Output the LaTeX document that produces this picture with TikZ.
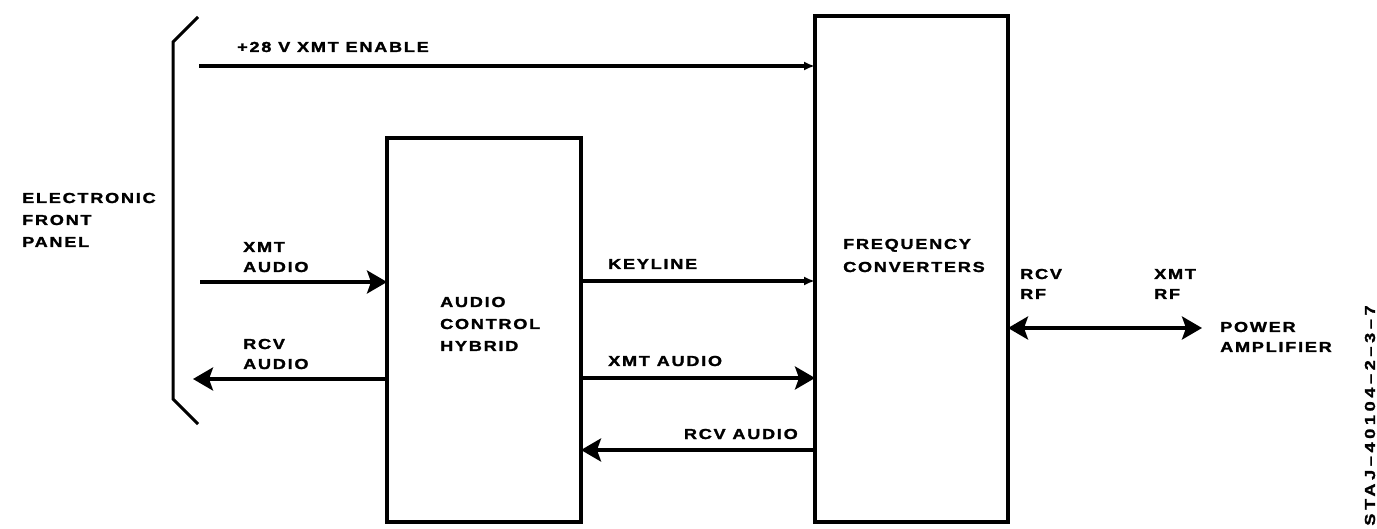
\documentclass[tikz,border=0pt]{standalone}
\usepackage{fontspec}
\setmainfont{Liberation Sans}[FakeStretch=1.25, LetterSpace=12, BoldFeatures={FakeBold=1.6}]
\newfontfamily\stajfont{Liberation Sans}[FakeStretch=1.25, LetterSpace=25, BoldFeatures={FakeBold=1.6}]
\usetikzlibrary{arrows.meta}
\begin{document}
\begin{tikzpicture}[x=1pt,y=-1pt,
  lbl/.style={font=\bfseries\fontsize{14.5}{20}\selectfont, inner sep=0pt, anchor=base west},
  lble/.style={lbl, anchor=base east},
  blk/.style={draw, line width=3.5pt, inner sep=0pt, outer sep=0pt},
  bus/.style={line width=3.5pt},
  bigarrow/.style={bus, -{Stealth[length=20pt,width=23pt,inset=4pt]}},
  dblarrow/.style={bus, {Stealth[length=20pt,width=23pt,inset=4pt]}-{Stealth[length=20pt,width=23pt,inset=4pt]}},
  smallarrow/.style={bus, -{Latex[length=11pt,width=9pt]}},
  panel/.style={line width=3pt}
]
\useasboundingbox (0,0) rectangle (1377,529);

% blocks
\node[blk, minimum width=194pt, minimum height=384pt] (ach) at (484,330) {};
\node[blk, minimum width=193pt, minimum height=506pt] (fc) at (911.5,269) {};

% front panel bracket
\coordinate (p1) at (198,17);
\coordinate (p2) at (173,42);
\coordinate (p3) at (173,399);
\coordinate (p4) at (198,424);
\draw[panel] (p1) -- (p2) -- (p3) -- (p4);

% free ends
\coordinate (e28) at (199,66);
\coordinate (exa) at (200,282);
\coordinate (era) at (193,379);
\coordinate (erf) at (1202,328);

% connectors
\draw[smallarrow] (e28) -- (e28 -| fc.west);
\draw[bigarrow] (exa) -- (exa -| ach.west);
\draw[bigarrow] (era -| ach.west) -- (era);
\draw[smallarrow] (ach.east |- 0,281) -- (fc.west |- 0,281);
\draw[bigarrow] (ach.east |- 0,378) -- (fc.west |- 0,378);
\draw[bigarrow] (fc.west |- 0,450) -- (ach.east |- 0,450);
\draw[dblarrow] (fc.east |- erf) -- (erf);

% labels
\node[lbl] (t1) at (22,203) {ELECTRONIC};
\node[lbl] (t2) at (22,225) {FRONT};
\node[lbl] (t3) at (22,247) {PANEL};
\node[lbl] (t4) at (237,52) {+28 V XMT ENABLE};
\node[lbl] (t5) at (243,252) {XMT};
\node[lbl] (t6) at (243,272) {AUDIO};
\node[lbl] (t7) at (243,349) {RCV};
\node[lbl] (t8) at (243,369) {AUDIO};
\node[lbl] (t9) at (440,307) {AUDIO};
\node[lbl] (t10) at (440,329) {CONTROL};
\node[lbl] (t11) at (440,351) {HYBRID};
\node[lbl] (t12) at (608,269) {KEYLINE};
\node[lbl] (t13) at (608,366) {XMT AUDIO};
\node[lble] (t14) at (798,439) {RCV AUDIO};
\node[lbl] (t15) at (843,249) {FREQUENCY};
\node[lbl] (t16) at (843,272) {CONVERTERS};
\node[lbl] (t17) at (1020,279) {RCV};
\node[lbl] (t18) at (1020,299) {RF};
\node[lbl] (t19) at (1154,279) {XMT};
\node[lbl] (t20) at (1154,299) {RF};
\node[lbl] (t21) at (1220,332) {POWER};
\node[lbl] (t22) at (1220,352) {AMPLIFIER};
\node[font=\stajfont\bfseries\fontsize{14.5}{20}\selectfont, inner sep=0pt, rotate=90] (t23) at (1370,415.5) {STAJ–40104–2–3–7};
\end{tikzpicture}
\end{document}
